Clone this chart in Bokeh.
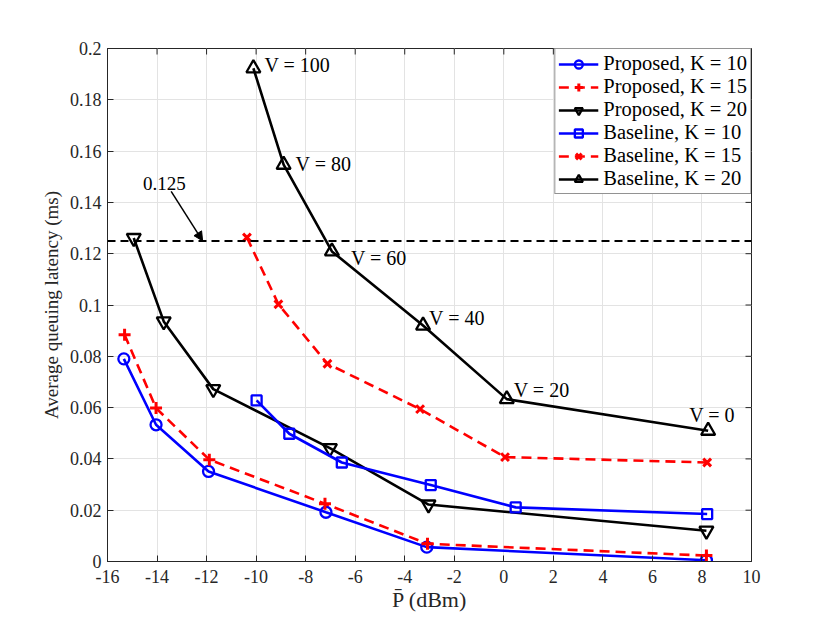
from bokeh.plotting import figure
from bokeh.models import (FixedTicker, Span, Arrow, NormalHead, Legend, LegendItem,
                          ColumnDataSource, Range1d)
from bokeh.core.properties import value
from bokeh.embed import file_html
from bokeh.resources import INLINE

# ---------------- data ----------------
prop_k10_x = [-15.34, -14.04, -11.92, -7.18, -3.11, 8.18]
prop_k10_y = [0.0790, 0.0533, 0.0351, 0.0192, 0.0056, 0.0005]
prop_k15_x = [-15.31, -14.04, -11.89, -7.22, -3.08, 8.18]
prop_k15_y = [0.0884, 0.0598, 0.0397, 0.0225, 0.0069, 0.0023]
prop_k20_x = [-14.94, -13.73, -11.73, -7.02, -3.04, 8.18]
prop_k20_y = [0.1261, 0.0936, 0.0672, 0.0442, 0.0222, 0.0120]
base_k10_x = [-9.98, -8.66, -6.54, -2.95, 0.48, 8.21]
base_k10_y = [0.0628, 0.0498, 0.0386, 0.0298, 0.0211, 0.0185]
base_k15_x = [-10.37, -9.10, -7.12, -3.38, 0.05, 8.21]
base_k15_y = [0.1263, 0.1003, 0.0771, 0.0594, 0.0407, 0.0386]
base_k20_x = [-10.11, -8.89, -6.94, -3.26, 0.12, 8.25]
base_k20_y = [0.1923, 0.1547, 0.1209, 0.0920, 0.0633, 0.0510]
v_values = [100, 80, 60, 40, 20, 0]
threshold = 0.125

x_ticks = [-16, -14, -12, -10, -8, -6, -4, -2, 0, 2, 4, 6, 8, 10]
x_tick_labels = ["-16", "-14", "-12", "-10", "-8", "-6", "-4", "-2", "0", "2", "4", "6", "8", "10"]
y_ticks = [0, 0.02, 0.04, 0.06, 0.08, 0.1, 0.12, 0.14, 0.16, 0.18, 0.2]
y_tick_labels = ["0", "0.02", "0.04", "0.06", "0.08", "0.1", "0.12", "0.14", "0.16", "0.18", "0.2"]

labels = ["Proposed, K = 10", "Proposed, K = 15", "Proposed, K = 20",
          "Baseline, K = 10", "Baseline, K = 15", "Baseline, K = 20"]

# ---------------- styles ----------------
FONT = "Liberation Serif"
AX = "#262626"
v_label_dx = [11, 12, 19, 6, 7, -19]
v_label_dy = [-3, -1, 7, -8, -9, -16]
X0, X1, Y0, Y1 = -16, 10, 0, 0.2
FW, FH = 644, 513          # frame size in px
TICK = 6                   # inward tick length in px

p = figure(width=814, height=614, output_backend="svg", toolbar_location=None,
           x_range=Range1d(X0, X1), y_range=Range1d(Y0, Y1),
           min_border_left=107, min_border_right=63, min_border_top=48, min_border_bottom=53,
           background_fill_color="white", border_fill_color="white")

p.outline_line_color = AX
p.outline_line_width = 1

bottom_ax = p.below[0]
left_ax = p.left[0]

bottom_ax.ticker = FixedTicker(ticks=x_ticks)
bottom_ax.major_label_overrides = dict(zip(x_ticks, x_tick_labels))
left_ax.ticker = FixedTicker(ticks=y_ticks)
left_ax.major_label_overrides = dict(zip(y_ticks, y_tick_labels))

for ax in (bottom_ax, left_ax):
    ax.axis_line_color = AX
    ax.major_tick_line_color = AX
    ax.major_tick_in = TICK
    ax.major_tick_out = 0
    ax.minor_tick_line_color = None
    ax.major_label_text_font = FONT
    ax.major_label_text_color = AX
    ax.major_label_text_font_size = "18px"
    ax.axis_label_text_font = FONT
    ax.axis_label_text_font_style = "normal"
    ax.axis_label_text_color = AX

bottom_ax.major_label_standoff = 8
left_ax.major_label_standoff = 6
bottom_ax.axis_label = "P\u0304 (dBm)"
left_ax.axis_label = "Average queuing latency (ms)"
bottom_ax.axis_label_text_font_size = "22px"
left_ax.axis_label_text_font_size = "19px"
bottom_ax.axis_label_standoff = 1
left_ax.axis_label_standoff = 5

# inward ticks on top and right edges (box style)
dy_tick = TICK * (Y1 - Y0) / FH
dx_tick = TICK * (X1 - X0) / FW
p.segment(x0=x_ticks, y0=[Y1] * len(x_ticks), x1=x_ticks, y1=[Y1 - dy_tick] * len(x_ticks),
          line_color=AX, line_width=1)
p.segment(x0=[X1] * len(y_ticks), y0=y_ticks, x1=[X1 - dx_tick] * len(y_ticks), y1=y_ticks,
          line_color=AX, line_width=1)

p.xgrid.ticker = FixedTicker(ticks=x_ticks)
p.ygrid.ticker = FixedTicker(ticks=y_ticks)
p.grid.grid_line_color = "#e3e3e3"
p.grid.grid_line_width = 1

# threshold line
p.add_layout(Span(location=threshold, dimension="width", line_color="black",
                  line_width=2, line_dash="8 5"))

LW = 2.6
items = []

def series(xs, ys, color, dash, marker, msize, mlw, label):
    src = ColumnDataSource(dict(x=xs, y=ys))
    r1 = p.line("x", "y", source=src, line_color=color, line_width=LW, line_dash=dash)
    r2 = p.scatter("x", "y", source=src, marker=marker, size=msize, line_color=color,
                   line_width=mlw, fill_color=None)
    items.append(LegendItem(label=label, renderers=[r1, r2]))

series(prop_k10_x, prop_k10_y, "#0000ff", "solid", "circle", 11, 2.3, labels[0])
series(prop_k15_x, prop_k15_y, "#ff0000", "10 6", "cross", 12, 3, labels[1])
series(prop_k20_x, prop_k20_y, "#000000", "solid", "inverted_triangle", 14, 2.3, labels[2])
series(base_k10_x, base_k10_y, "#0000ff", "solid", "square", 10, 2.3, labels[3])
series(base_k15_x, base_k15_y, "#ff0000", "10 6", "x", 11, 3, labels[4])
series(base_k20_x, base_k20_y, "#000000", "solid", "triangle", 14, 2.3, labels[5])

# V labels
vsrc = ColumnDataSource(dict(x=base_k20_x, y=base_k20_y,
                             t=[f"V = {v}" for v in v_values],
                             dx=v_label_dx, dy=v_label_dy))
p.text("x", "y", text="t", source=vsrc, x_offset="dx", y_offset="dy",
       text_font=value(FONT), text_font_size="20px", text_align="left",
       text_baseline="middle", text_color="black")

# threshold annotation
p.text(x=[-13.7], y=[threshold + 0.0225], text=[f"{threshold}"],
       text_font=value(FONT), text_font_size="19px", text_align="center",
       text_baseline="middle", text_color="black")
p.add_layout(Arrow(end=NormalHead(size=9, fill_color="black", line_color="black"),
                   x_start=-13.43, y_start=threshold + 0.0193,
                   x_end=-12.16, y_end=threshold,
                   line_color="black", line_width=1.5))

legend = Legend(items=items, location="top_right", margin=0, padding=3,
                spacing=0, glyph_width=40, glyph_height=20, label_height=20,
                label_standoff=5, label_text_font=FONT, label_text_font_size="20.5px",
                label_text_color="black", border_line_color=AX, border_line_width=1,
                background_fill_color="white", background_fill_alpha=1)
p.add_layout(legend)

open("out.html", "w").write(file_html(p, INLINE))
